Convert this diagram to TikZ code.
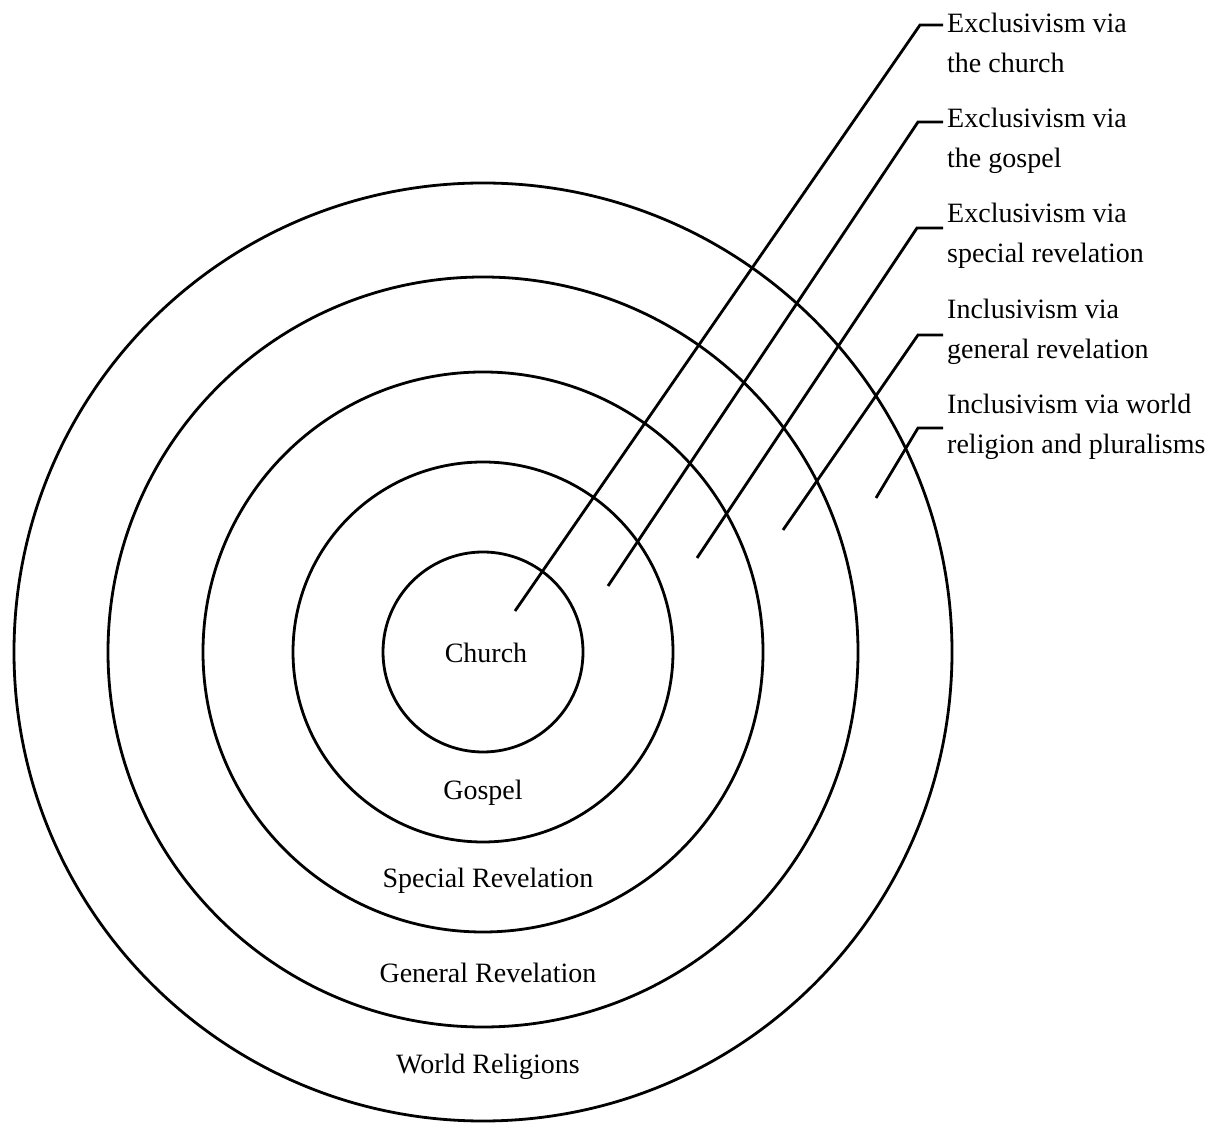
\documentclass[tikz,border=0pt]{standalone}
\usepackage{fontspec}
\setmainfont{Liberation Serif}
\usetikzlibrary{positioning}
\tikzset{
  ring/.style={line width=2.8pt},
  leader/.style={line width=2.8pt, line join=miter},
  sidelabel/.style={anchor=base west, align=left, inner sep=4pt, font=\fontsize{28}{40}\selectfont},
  ringlabel/.style={anchor=base, inner sep=0pt, font=\fontsize{28}{34}\selectfont}
}

\begin{document}
\begin{tikzpicture}[x=1pt,y=1pt]
\useasboundingbox (0,0) rectangle (1225,1124);

% Centre of the rings
\coordinate (centre) at (483,472);

% Concentric rings
\foreach \r in {100,190,280,375,469}
{
    \draw[ring] (centre) circle (\r pt);
}

% Ring labels
\node[ringlabel] (church)  at (486,461) {Church};
\node[ringlabel] (gospel)  at (483,324) {Gospel};
\node[ringlabel] (special) at (488,236) {Special Revelation};
\node[ringlabel] (general) at (488,142) {General Revelation};
\node[ringlabel] (world)   at (488,51)  {World Religions};

% Side labels (base = baseline of the last line)
\node[sidelabel] (exChurch)  at (943,1051) {Exclusivism via\\the church};
\node[sidelabel] (exGospel)  at (943,956)  {Exclusivism via\\the gospel};
\node[sidelabel] (exSpecial) at (943,861)  {Exclusivism via\\special revelation};
\node[sidelabel] (inGeneral) at (943,765)  {Inclusivism via\\general revelation};
\node[sidelabel] (inWorld)   at (943,670)  {Inclusivism via world\\religion and pluralisms};

% Leader start and bend points
\coordinate (inChurch)    at (515,513);
\coordinate (bendChurch)  at (920,1099);
\coordinate (inGospel)    at (608,538);
\coordinate (bendGospel)  at (918,1002);
\coordinate (inSpecial)   at (697,566);
\coordinate (bendSpecial) at (917,896);
\coordinate (inGen)       at (783,594);
\coordinate (bendGen)     at (918,789);
\coordinate (inWorldR)    at (876,626);
\coordinate (bendWorld)   at (918,696);

% Leaders
\draw[leader] (inChurch)  -- (bendChurch)  -- (bendChurch -| exChurch.west);
\draw[leader] (inGospel)  -- (bendGospel)  -- (bendGospel -| exGospel.west);
\draw[leader] (inSpecial) -- (bendSpecial) -- (bendSpecial -| exSpecial.west);
\draw[leader] (inGen)     -- (bendGen)     -- (bendGen -| inGeneral.west);
\draw[leader] (inWorldR)  -- (bendWorld)   -- (bendWorld -| inWorld.west);

\end{tikzpicture}
\end{document}
